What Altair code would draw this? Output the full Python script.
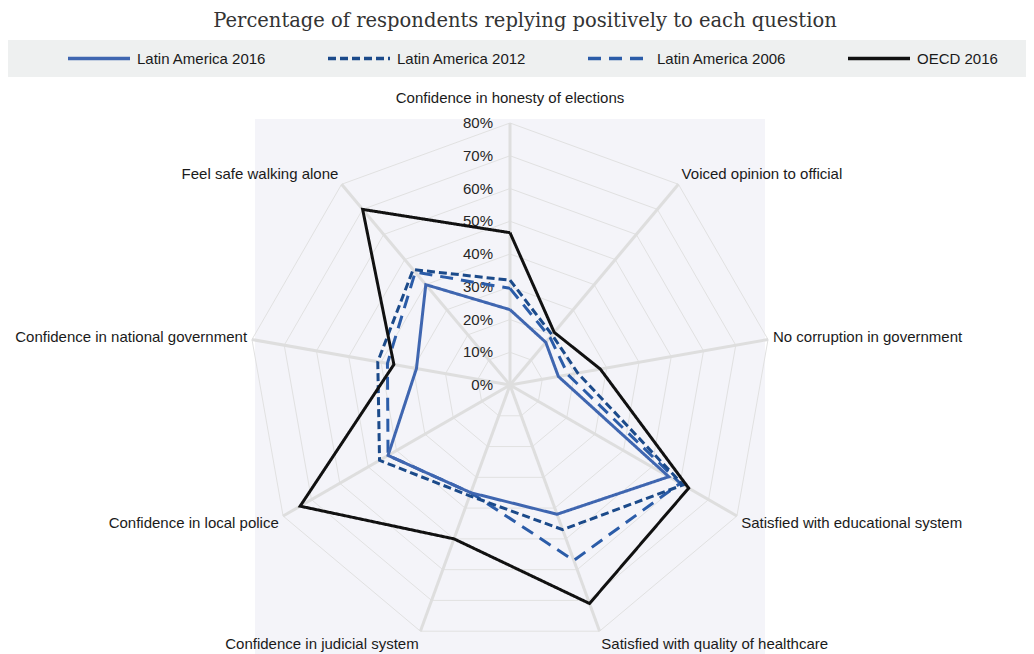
import math
import altair as alt
import pandas as pd

# ---------------- data ----------------
categories = [
    "Confidence in honesty of elections",
    "Voiced opinion to official",
    "No corruption in government",
    "Satisfied with educational system",
    "Satisfied with quality of healthcare",
    "Confidence in judicial system",
    "Confidence in local police",
    "Confidence in national government",
    "Feel safe walking alone",
]
series_names = ["Latin America 2016", "Latin America 2012", "Latin America 2006", "OECD 2016"]
la_2016 = [23, 17, 15, 56, 42, 35, 43, 29, 40]
la_2012 = [32, 20, 21, 61, 47, 36, 46, 41, 46]
la_2006 = [29.5, 19, 18, 60, 57, 35, 43, 38, 45]
oecd_2016 = [46.5, 21, 28, 63, 71, 50, 74, 36, 70]
tick_values = [0, 10, 20, 30, 40, 50, 60, 70, 80]
tick_labels = ["0%", "10%", "20%", "30%", "40%", "50%", "60%", "70%", "80%"]
title_text = "Percentage of respondents replying positively to each question"

series_colors = ["#3f66b0", "#1b4a8a", "#2b5ca8", "#111111"]
series_dash = [[1, 0], [8, 4], [13, 8], [1, 0]]

# ---------------- layout ----------------
W, H = 1018, 646
CX, CY = 502, 377          # centre of radar in chart pixels
PX = 3.275                 # pixels per percentage point
RMAX = 80
N = len(categories)
FONT = "Liberation Sans"

xscale = alt.Scale(domain=[-CX / PX, (W - CX) / PX], range=[0, W], nice=False, zero=False)
yscale = alt.Scale(domain=[-(H - CY) / PX, CY / PX], range=[H, 0], nice=False, zero=False)


def ang(k):
    return 2 * math.pi * k / N


# rings
ring_rows = []
for lv in tick_values[1:]:
    for k in range(N + 1):
        a = ang(k % N)
        ring_rows.append({"lv": lv, "k": k, "x": lv * math.sin(a), "y": lv * math.cos(a)})
rings_df = pd.DataFrame(ring_rows)

# spokes
spoke_df = pd.DataFrame({
    "x": [0.0] * N, "y": [0.0] * N,
    "x2": [RMAX * math.sin(ang(k)) for k in range(N)],
    "y2": [RMAX * math.cos(ang(k)) for k in range(N)],
})

# series
all_vals = [la_2016, la_2012, la_2006, oecd_2016]
ser_rows = []
for s, vals in zip(series_names, all_vals):
    for k in range(N + 1):
        a = ang(k % N)
        v = vals[k % N]
        ser_rows.append({"series": s, "k": k, "x": v * math.sin(a), "y": v * math.cos(a)})
ser_df = pd.DataFrame(ser_rows)

# category labels
lab_rows = []
for k, c in enumerate(categories):
    a = ang(k)
    s, co = math.sin(a), math.cos(a)
    dx = 5 * s
    dy = 14 * co if k != 0 else 25
    if abs(s) < 1e-6:
        al = "center"
    elif s > 0:
        al = "left"
    else:
        al = "right"
    lab_rows.append({"label": c, "al": al,
                     "x": RMAX * s + dx / PX, "y": RMAX * co + dy / PX})
lab_df = pd.DataFrame(lab_rows)

tick_df = pd.DataFrame({"v": tick_values, "t": tick_labels})
tick_df["x"] = -17 / PX

leg_df = pd.DataFrame({"series": series_names, "i": list(range(len(series_names)))})

X = lambda f: alt.X(f, type="quantitative", scale=xscale, axis=None)
Y = lambda f: alt.Y(f, type="quantitative", scale=yscale, axis=None)

one = pd.DataFrame({"a": [0]})

background = alt.Chart(one).mark_rect(color="#f4f4f9").encode(
    x=alt.value(247), x2=alt.value(757), y=alt.value(111), y2=alt.value(H)
)
legend_band = alt.Chart(one).mark_rect(color="#eef0f0").encode(
    x=alt.value(0), x2=alt.value(1019), y=alt.value(32), y2=alt.value(69)
)

rings = alt.Chart(rings_df).mark_line(color="#e1e1e1", strokeWidth=1).encode(
    x=X("x"), y=Y("y"), detail="lv:N", order="k:Q"
)
spokes = alt.Chart(spoke_df).mark_rule(color="#dedede", strokeWidth=3).encode(
    x=X("x"), y=Y("y"), x2="x2:Q", y2="y2:Q"
)

color_scale = alt.Scale(domain=series_names, range=series_colors)
dash_scale = alt.Scale(domain=series_names, range=series_dash)

lines = []
for s in ["Latin America 2006", "Latin America 2012", "Latin America 2016", "OECD 2016"]:
    lines.append(
        alt.Chart(ser_df).transform_filter(alt.datum.series == s)
        .mark_line(strokeWidth=3, strokeJoin="miter")
        .encode(
            x=X("x"), y=Y("y"), order="k:Q",
            color=alt.Color("series:N", scale=color_scale, legend=None),
            strokeDash=alt.StrokeDash("series:N", scale=dash_scale, legend=None),
        )
    )

ticks = alt.Chart(tick_df).mark_text(
    align="right", baseline="middle", font=FONT, fontSize=15, color="#262626"
).encode(x=X("x"), y=Y("v"), text="t:N")

labels = []
for al in ["center", "left", "right"]:
    labels.append(
        alt.Chart(lab_df).transform_filter(alt.datum.al == al)
        .mark_text(align=al, baseline="middle", font=FONT, fontSize=15, color="#1a1a1a")
        .encode(x=X("x"), y=Y("y"), text="label:N")
    )

title = alt.Chart(pd.DataFrame({"t": [title_text]})).mark_text(
    font="DejaVu Serif", fontSize=19.5, color="#333333", align="center", baseline="middle"
).encode(x=alt.value(517), y=alt.value(13), text="t:N")

leg_base = alt.Chart(leg_df).transform_calculate(
    lx="60 + 260 * datum.i", lx2="60 + 260 * datum.i + 62", tx="60 + 260 * datum.i + 69"
)
leg_lines = leg_base.mark_rule(strokeWidth=3.5).encode(
    x=alt.X("lx:Q", scale=None), x2="lx2:Q", y=alt.value(50.5),
    color=alt.Color("series:N", scale=color_scale, legend=None),
    strokeDash=alt.StrokeDash("series:N", scale=dash_scale, legend=None),
)
leg_text = leg_base.mark_text(
    align="left", baseline="middle", font=FONT, fontSize=15, color="#1a1a1a"
).encode(x=alt.X("tx:Q", scale=None), y=alt.value(50.5), text="series:N")

chart = alt.layer(
    background, legend_band, rings, spokes, ticks, *lines, *labels, title, leg_lines, leg_text
).properties(
    width=W, height=H, autosize=alt.AutoSizeParams(type="none"), padding=0
).configure_view(strokeWidth=0)

chart.save("out.html", embed_options={"renderer": "svg", "actions": False})
